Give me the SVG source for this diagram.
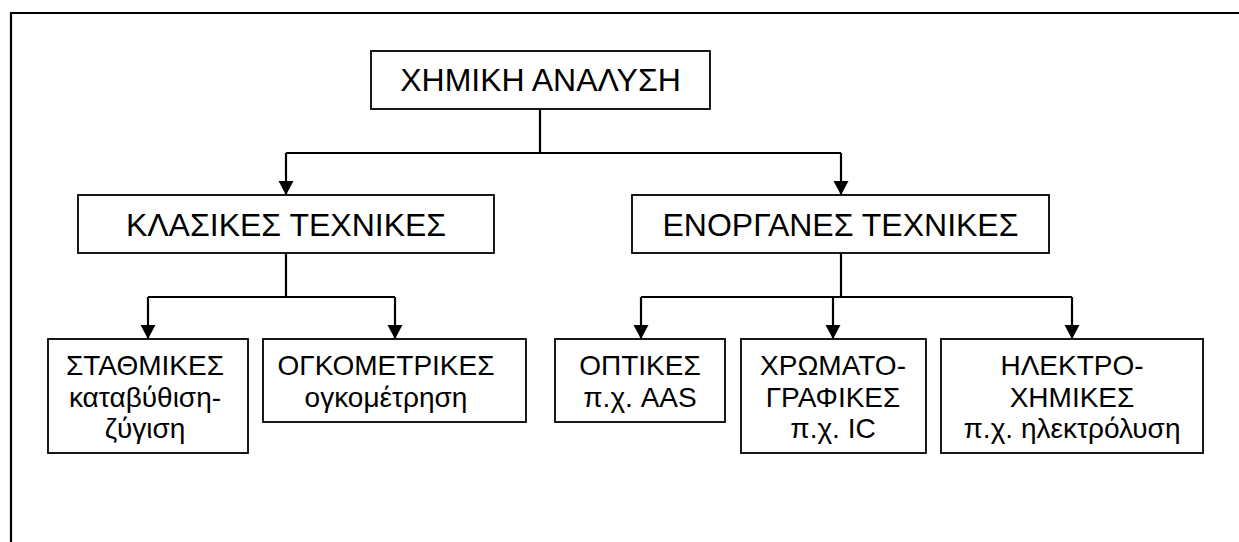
<svg xmlns="http://www.w3.org/2000/svg" width="1239" height="542" viewBox="0 0 1239 542">
<style>
.box{fill:#fff;stroke:#000;stroke-width:1.8}
.t32{font-family:"Liberation Sans",Arial,sans-serif;font-size:32px;text-anchor:middle;fill:#000}
.t28{font-family:"Liberation Sans",Arial,sans-serif;font-size:28px;text-anchor:middle;fill:#000}
.con{fill:none;stroke:#000;stroke-width:2.2}
.arr{fill:none;stroke:#000;stroke-width:2.2;marker-end:url(#ah)}
</style>
<defs>
<marker id="ah" markerUnits="userSpaceOnUse" markerWidth="16" markerHeight="16" refX="14" refY="7.5" orient="auto" viewBox="0 0 16 16">
<path d="M0,0 L14,7.5 L0,15 z" fill="#000"/>
</marker>
</defs>
<rect width="1239" height="542" fill="#fff"/>
<path d="M11,542 L11,13 L1239,13" fill="none" stroke="#000" stroke-width="2.2"/>
<g id="connectors">
<path class="con" d="M540,109 L540,153 M286,153 L841,153"/>
<path class="arr" d="M286,153 L286,195"/>
<path class="arr" d="M841,153 L841,195"/>
<path class="con" d="M286,253 L286,297 M148,297 L395,297"/>
<path class="arr" d="M148,297 L148,339"/>
<path class="arr" d="M395,297 L395,339"/>
<path class="con" d="M841,253 L841,297 M641,297 L1072,297"/>
<path class="arr" d="M641,297 L641,339"/>
<path class="arr" d="M833,297 L833,339"/>
<path class="arr" d="M1072,297 L1072,339"/>
</g>
<g id="n-chemical-analysis">
<rect class="box" x="371" y="51" width="339" height="58"/>
<text class="t32" x="540.5" y="91">ΧΗΜΙΚΗ ΑΝΑΛΥΣΗ</text>
</g>
<g id="n-classical">
<rect class="box" x="78" y="195" width="416" height="58"/>
<text class="t32" x="286" y="236">ΚΛΑΣΙΚΕΣ ΤΕΧΝΙΚΕΣ</text>
</g>
<g id="n-instrumental">
<rect class="box" x="632" y="195" width="417" height="58"/>
<text class="t32" x="840.5" y="236">ΕΝΟΡΓΑΝΕΣ ΤΕΧΝΙΚΕΣ</text>
</g>
<g id="n-gravimetric">
<rect class="box" x="48" y="339" width="200" height="114"/>
<text class="t28" x="145" y="375">ΣΤΑΘΜΙΚΕΣ</text>
<text class="t28" x="145" y="407">καταβύθιση-</text>
<text class="t28" x="145" y="438">ζύγιση</text>
</g>
<g id="n-volumetric">
<rect class="box" x="263" y="339" width="263" height="83"/>
<text class="t28" x="386" y="375">ΟΓΚΟΜΕΤΡΙΚΕΣ</text>
<text class="t28" x="386" y="407">ογκομέτρηση</text>
</g>
<g id="n-optical">
<rect class="box" x="555" y="339" width="170" height="83"/>
<text class="t28" x="640" y="375">ΟΠΤΙΚΕΣ</text>
<text class="t28" x="640" y="407">π.χ. AAS</text>
</g>
<g id="n-chromatographic">
<rect class="box" x="741" y="339" width="185" height="114"/>
<text class="t28" x="833" y="375">ΧΡΩΜΑΤΟ-</text>
<text class="t28" x="833" y="407">ΓΡΑΦΙΚΕΣ</text>
<text class="t28" x="833" y="438">π.χ. IC</text>
</g>
<g id="n-electrochemical">
<rect class="box" x="941" y="339" width="262" height="114"/>
<text class="t28" x="1072" y="375">ΗΛΕΚΤΡΟ-</text>
<text class="t28" x="1072" y="407">ΧΗΜΙΚΕΣ</text>
<text class="t28" x="1072" y="438">π.χ. ηλεκτρόλυση</text>
</g>
</svg>
